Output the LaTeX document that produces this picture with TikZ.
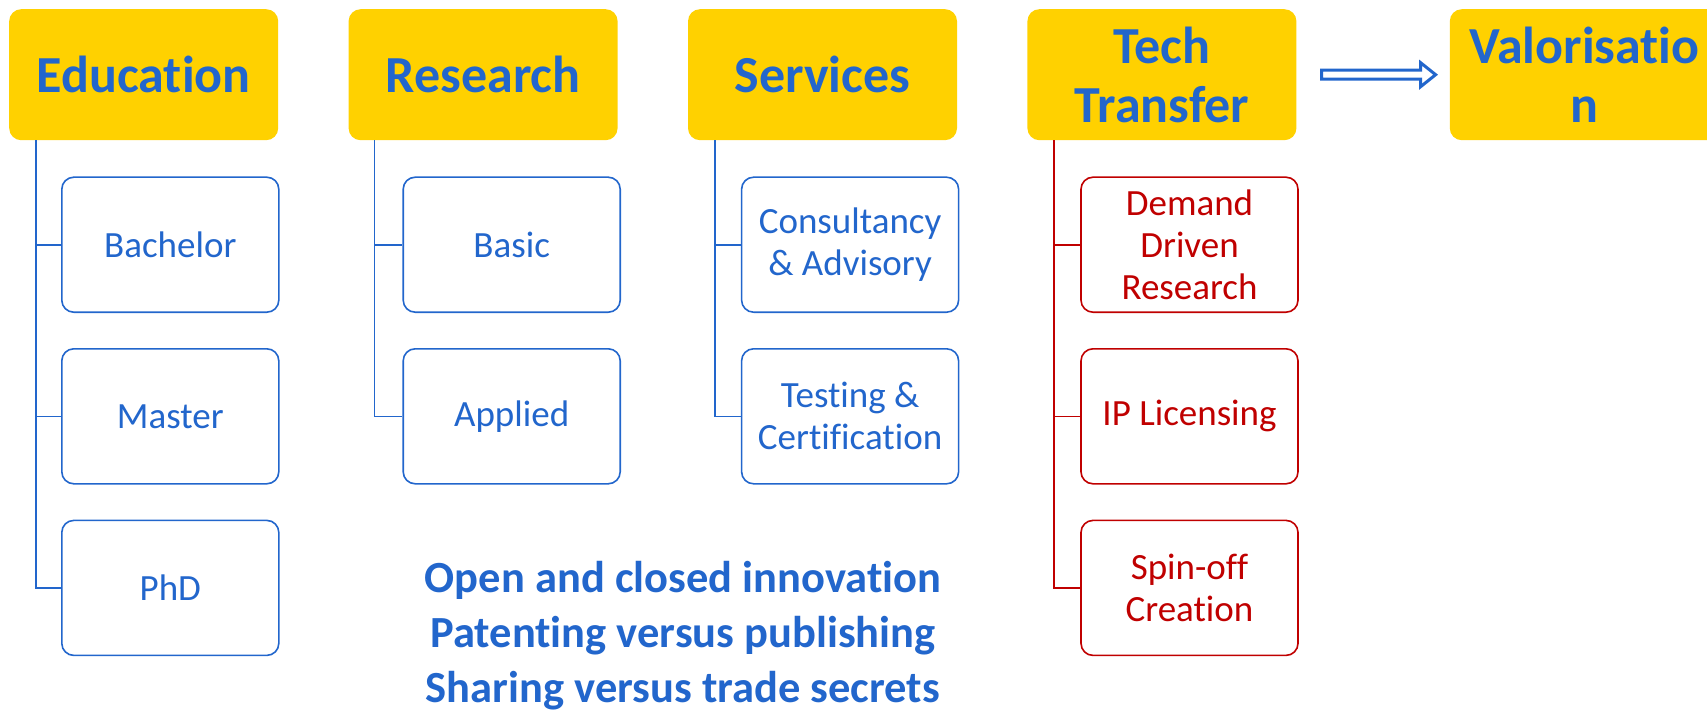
\documentclass[tikz,border=0pt]{standalone}
\usepackage{fontspec}
\setmainfont{Carlito}[Ligatures=NoCommon]
\usetikzlibrary{positioning,calc}

\definecolor{hdryellow}{RGB}{255,209,0}
\definecolor{txtblue}{RGB}{34,102,204}
\definecolor{ttred}{RGB}{192,0,0}

\tikzset{
  x=1pt, y=1pt, % one unit is one pixel of the slide
  hdr/.style={rectangle, rounded corners=12pt, fill=hdryellow, text=txtblue,
    font=\fontsize{52}{59}\selectfont\bfseries, align=center,
    minimum width=269pt, minimum height=131pt, inner sep=0pt},
  sub/.style={rectangle, rounded corners=12pt, draw=txtblue, line width=1.6pt,
    fill=white, text=txtblue, font=\fontsize{37}{42}\selectfont, align=center,
    minimum width=217pt, minimum height=135pt, inner sep=0pt},
  subred/.style={sub, draw=ttred, text=ttred},
  tree/.style={draw=txtblue, line width=1.6pt},
  treered/.style={tree, draw=ttred},
  bigarrow/.style={draw=txtblue, line width=3pt, fill=white, line join=miter},
  node distance=35pt, % gap between two sub boxes
}

\begin{document}
\begin{tikzpicture}
    \clip (0,0) rectangle (1707,-714);

    % top row
    \node[hdr, anchor=north west] (edu) at (9,-9) {Education};
    \node[hdr, right=70pt of edu] (res) {Research};
    \node[hdr, right=70pt of res] (srv) {Services};
    \node[hdr, right=70pt of srv] (tt) {Tech\\Transfer};
    \node[hdr, right=153pt of tt] (val) {Valorisatio\\n};

    % education
    \node[sub, below right=36pt and 52pt of edu.south west] (bach) {Bachelor};
    \node[sub, below=of bach] (mast) {Master};
    \node[sub, below=of mast] (phd) {PhD};

    % research
    \node[sub, below right=36pt and 54pt of res.south west] (basic) {Basic};
    \node[sub, below=of basic] (appl) {Applied};

    % services
    \node[sub, below right=36pt and 53pt of srv.south west] (cons) {Consultancy\\\& Advisory};
    \node[sub, below=of cons] (test) {Testing \&\\Certification};

    % tech transfer
    \node[subred, below right=36pt and 53pt of tt.south west] (ddr) {Demand\\Driven\\Research};
    \node[subred, below=of ddr] (ipl) {IP Licensing};
    \node[subred, below=of ipl] (spin) {Spin-off\\Creation};

    \node[text=txtblue, font=\fontsize{44.5}{55}\selectfont\bfseries, align=center, inner sep=0pt]
        (ideas) at (683,-636) {Open and closed innovation\\Patenting versus publishing\\Sharing versus trade secrets};

    % tree lines
    \foreach \c in {bach,mast,phd}
        \draw[tree] ([xshift=27pt]edu.south west) |- (\c.west);
    \foreach \c in {basic,appl}
        \draw[tree] ([xshift=26pt]res.south west) |- (\c.west);
    \foreach \c in {cons,test}
        \draw[tree] ([xshift=27pt]srv.south west) |- (\c.west);
    \foreach \c in {ddr,ipl,spin}
        \draw[treered] ([xshift=27pt]tt.south west) |- (\c.west);

    % block arrow towards valorisation
    \coordinate (arrS) at ($(tt.east)+(25,0)$);
    \coordinate (arrE) at ($(val.west)+(-14,0)$);
    \draw[bigarrow] ($(arrS)+(0,4.5)$) -- ($(arrE)+(-15,4.5)$) -- ($(arrE)+(-15,12)$)
        -- (arrE) -- ($(arrE)+(-15,-12)$) -- ($(arrE)+(-15,-4.5)$)
        -- ($(arrS)+(0,-4.5)$) -- cycle;
\end{tikzpicture}
\end{document}
